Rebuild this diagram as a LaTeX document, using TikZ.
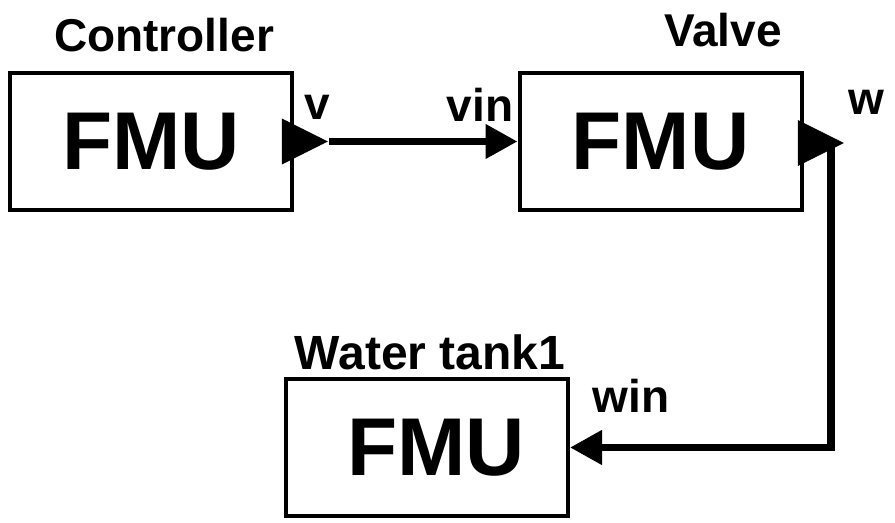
\documentclass[tikz,border=0pt]{standalone}
\usepackage{fontspec}
\setmainfont{Liberation Sans}
\usetikzlibrary{positioning, shapes.geometric, arrows.meta, calc}

\begin{document}
\begin{tikzpicture}[
        x=0.5pt, y=-0.5pt,
        every node/.style={inner sep=0pt, font=\bfseries\fontsize{23}{27}\selectfont},
        box/.style={draw, line width=2pt, minimum width=141pt, minimum height=68.5pt, font=\bfseries\fontsize{41}{48}\selectfont},
        port/.style={isosceles triangle, isosceles triangle stretches, fill, minimum width=23pt, minimum height=23pt, anchor=apex},
        wire/.style={-{Triangle[length=16pt, width=16.5pt]}, line width=3.7pt}
      ]
    \useasboundingbox (0,0) rectangle (895,523);

    \node[box] (ctrl) at (151,141.5) {FMU};
    \node[box] (valve) at (660.5,141.5) {FMU};
    \node[box] (tank) at (427,447.5) {\hspace*{9pt}FMU};

    \node[anchor=base] (ctrltitle) at (164,52) {Controller};
    \node[anchor=base] (valvetitle) at (723,47) {Valve};
    \node[anchor=base, font=\bfseries\fontsize{24}{28}\selectfont] (tanktitle) at (430,370) {Water tank1};

    \node[anchor=base] (vlabel) at (317,120) {v};
    \node[anchor=base] (vinlabel) at (480,122) {vin};
    \node[anchor=base] (wlabel) at (866,115) {w};
    \node[anchor=base] (winlabel) at (631,413) {win};

    \node[port] (vout) at (329,141.5) {};
    \node[port] (wout) at (845,143) {};
    \coordinate (wbend) at (831,143);

    \draw[wire] (vout.apex) -- (valve.west);
    \draw[wire] (wbend) |- (tank.east);

    \end{tikzpicture}
\end{document}
